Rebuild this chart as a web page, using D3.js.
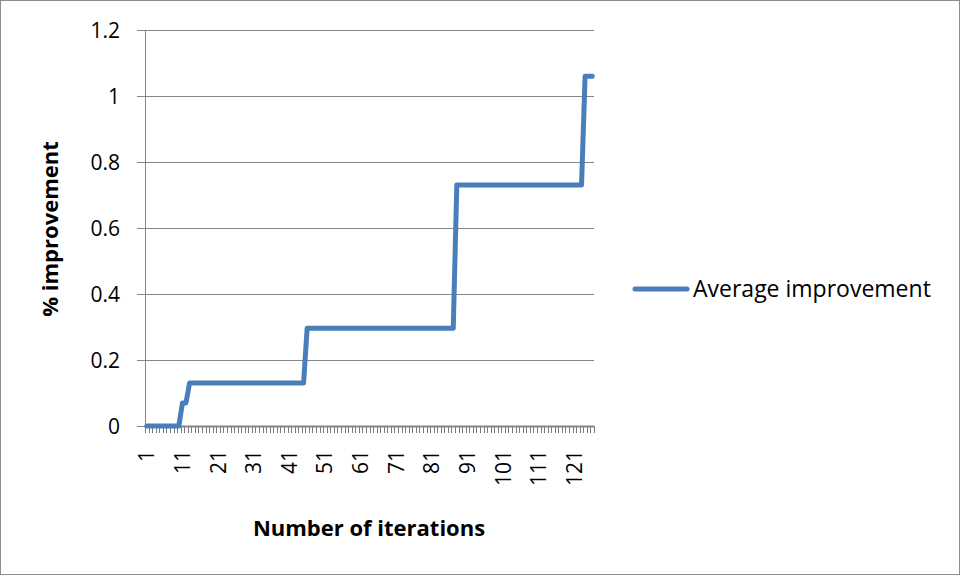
<!DOCTYPE html>
<html>
<head>
<meta charset="utf-8">
<script src="https://cdn.jsdelivr.net/npm/d3@7"></script>
<style>
  html, body { margin: 0; padding: 0; background: #fff; }
  svg { display: block; }
  text { font-family: "Open Sans", "Noto Sans", sans-serif; fill: #000; }
</style>
</head>
<body>
<svg id="chart" width="961" height="576"></svg>
<script>
// Average improvement after each iteration (126 iterations)
const iterations = d3.range(1, 127);
const improvement = [
  0, 0, 0, 0, 0, 0, 0, 0, 0, 0,
  0.07, 0.07,
  0.13, 0.13, 0.13, 0.13, 0.13, 0.13, 0.13, 0.13, 0.13, 0.13,
  0.13, 0.13, 0.13, 0.13, 0.13, 0.13, 0.13, 0.13, 0.13, 0.13,
  0.13, 0.13, 0.13, 0.13, 0.13, 0.13, 0.13, 0.13, 0.13, 0.13,
  0.13, 0.13, 0.13,
  0.296, 0.296, 0.296, 0.296, 0.296, 0.296, 0.296, 0.296, 0.296, 0.296,
  0.296, 0.296, 0.296, 0.296, 0.296, 0.296, 0.296, 0.296, 0.296, 0.296,
  0.296, 0.296, 0.296, 0.296, 0.296, 0.296, 0.296, 0.296, 0.296, 0.296,
  0.296, 0.296, 0.296, 0.296, 0.296, 0.296, 0.296, 0.296, 0.296, 0.296,
  0.296, 0.296,
  0.73, 0.73, 0.73, 0.73, 0.73, 0.73, 0.73, 0.73, 0.73, 0.73,
  0.73, 0.73, 0.73, 0.73, 0.73, 0.73, 0.73, 0.73, 0.73, 0.73,
  0.73, 0.73, 0.73, 0.73, 0.73, 0.73, 0.73, 0.73, 0.73, 0.73,
  0.73, 0.73, 0.73, 0.73, 0.73, 0.73,
  1.06, 1.06, 1.06
];
const yTicks = [0, 0.2, 0.4, 0.6, 0.8, 1, 1.2];
const xLabelEvery = 10;
const seriesName = "Average improvement";
const xTitle = "Number of iterations";
const yTitle = "% improvement";

const svg = d3.select("#chart");
const gridColor = "#868686";
const lineColor = "#4a7ebb";

// chart frame
svg.append("rect")
  .attr("x", 0.5).attr("y", 0.5).attr("width", 959).attr("height", 574)
  .attr("fill", "#fff").attr("stroke", "#8c8c8c").attr("stroke-width", 1);

const plot = { left: 145, right: 594, top: 30, bottom: 426 };

const x = d3.scaleBand().domain(iterations).range([plot.left, plot.right]).padding(0);
const y = d3.scaleLinear().domain([0, 1.2]).range([plot.bottom, plot.top]);

// horizontal gridlines with outward ticks
const yAxis = d3.axisLeft(y).tickValues(yTicks).tickSize(8).tickPadding(17)
  .tickFormat(d => d3.format("")(+d.toFixed(1)));
const gy = svg.append("g").attr("transform", `translate(${plot.left},0)`).call(yAxis);
gy.select(".domain").remove();
gy.selectAll(".tick line").attr("stroke", gridColor).attr("shape-rendering", "crispEdges");
gy.selectAll(".tick text").attr("font-size", 21).attr("fill", "#000")
  .attr("font-family", "'Open Sans', sans-serif").attr("dy", "0.34em");

svg.append("g").selectAll("line").data(yTicks.filter(d => d > 0)).join("line")
  .attr("x1", plot.left).attr("x2", plot.right)
  .attr("y1", d => Math.round(y(d)) + 0.5).attr("y2", d => Math.round(y(d)) + 0.5)
  .attr("stroke", gridColor).attr("stroke-width", 1);

// value axis line
svg.append("line")
  .attr("x1", plot.left + 0.5).attr("x2", plot.left + 0.5)
  .attr("y1", plot.top).attr("y2", plot.bottom)
  .attr("stroke", gridColor);

// category axis: tick marks at every category boundary
const boundaries = iterations.map(d => x(d)).concat([plot.right]);
svg.append("g").selectAll("line").data(boundaries).join("line")
  .attr("x1", d => Math.round(d) + 0.5).attr("x2", d => Math.round(d) + 0.5)
  .attr("y1", plot.bottom).attr("y2", plot.bottom + 7)
  .attr("stroke", "#7a7a7a");
svg.append("line")
  .attr("x1", plot.left).attr("x2", plot.right)
  .attr("y1", plot.bottom + 0.5).attr("y2", plot.bottom + 0.5)
  .attr("stroke", gridColor).attr("stroke-width", 2);

// rotated category labels
svg.append("g").selectAll("text")
  .data(iterations.filter((d, i) => i % xLabelEvery === 0)).join("text")
  .attr("transform", d => `translate(${x(d) + x.bandwidth() / 2 + 7.5},450) rotate(-90)`)
  .attr("text-anchor", "end")
  .attr("font-size", 21)
  .text(d => d);

// series line
const line = d3.line()
  .x((d, i) => x(iterations[i]) + x.bandwidth() / 2)
  .y(d => y(d));
svg.append("path")
  .datum(improvement)
  .attr("d", line)
  .attr("fill", "none")
  .attr("stroke", lineColor)
  .attr("stroke-width", 5)
  .attr("stroke-linejoin", "round")
  .attr("stroke-linecap", "round");

// axis titles
svg.append("text")
  .attr("x", 369).attr("y", 536)
  .attr("text-anchor", "middle").attr("font-size", 22).attr("font-weight", "bold")
  .text(xTitle);
svg.append("text")
  .attr("transform", `translate(58,229) rotate(-90)`)
  .attr("text-anchor", "middle").attr("font-size", 22).attr("font-weight", "bold")
  .text(yTitle);

// legend
svg.append("line")
  .attr("x1", 635).attr("x2", 687).attr("y1", 289).attr("y2", 289)
  .attr("stroke", lineColor).attr("stroke-width", 5).attr("stroke-linecap", "round");
svg.append("text")
  .attr("x", 693).attr("y", 297)
  .attr("font-size", 23)
  .text(seriesName);
</script>
</body>
</html>
